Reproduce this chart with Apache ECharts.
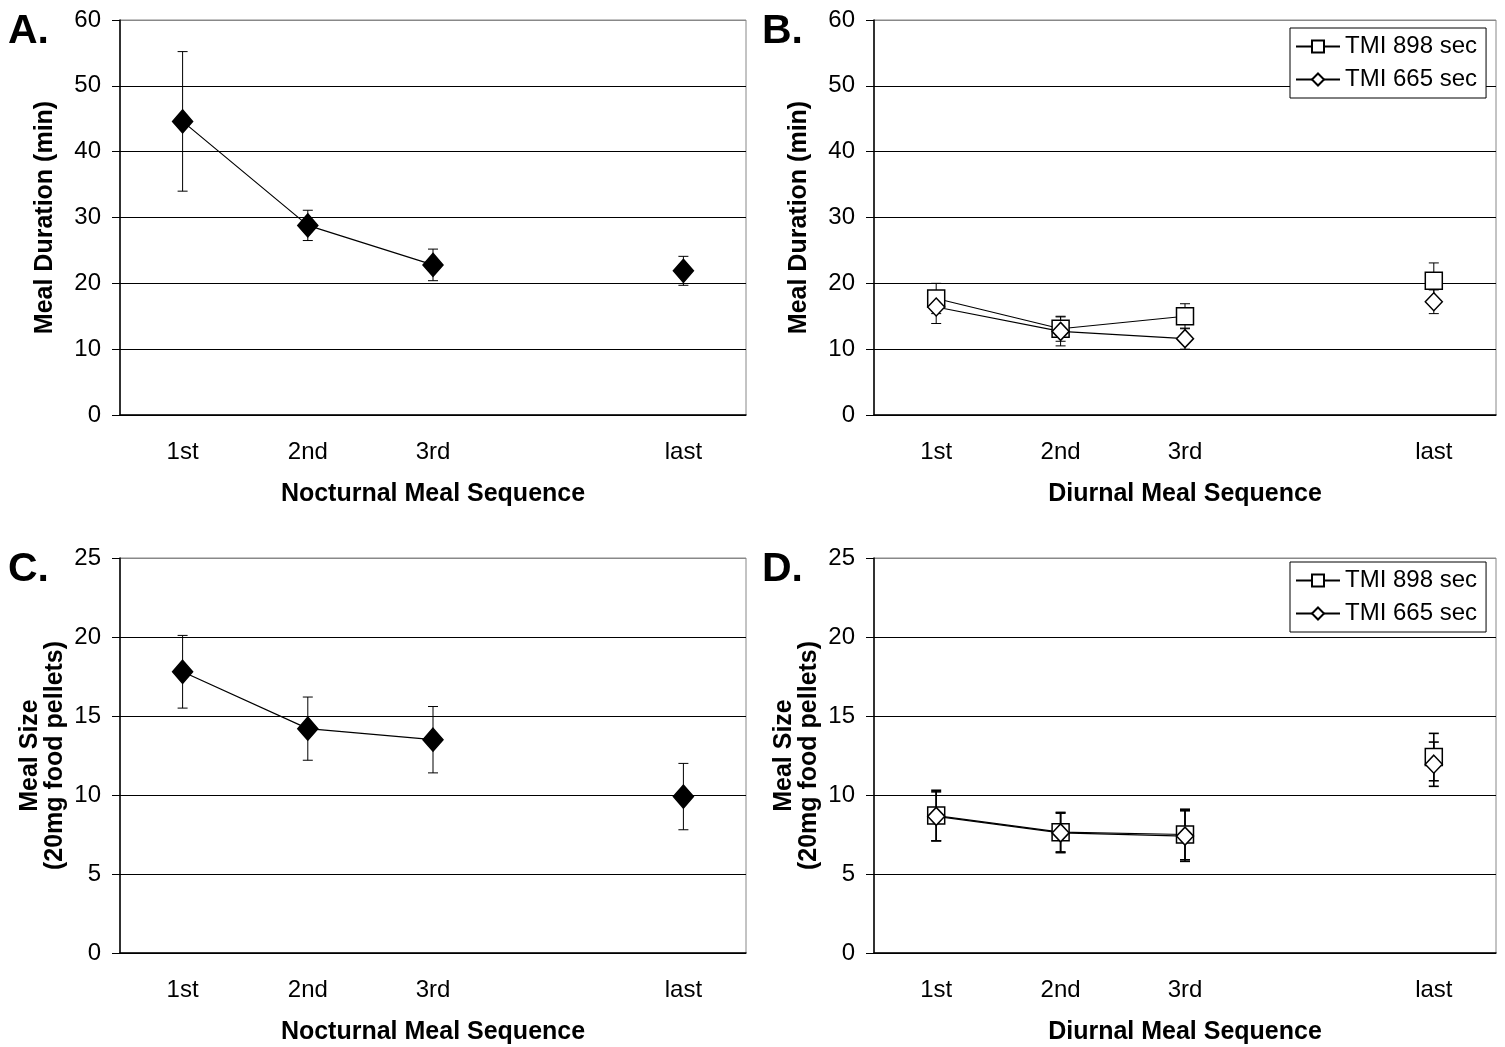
<!DOCTYPE html>
<html>
<head>
<meta charset="utf-8">
<script src="https://cdn.jsdelivr.net/npm/echarts@6/dist/echarts.min.js"></script>
<style>html,body{margin:0;padding:0;background:#fff}#c{width:1505px;height:1047px}</style>
</head>
<body>
<div id="c"></div>
<script>
// ---- data ----
const categories = ['1st', '2nd', '3rd', '', 'last'];
const seriesNames = ['TMI 898 sec', 'TMI 665 sec'];

// A: nocturnal meal duration (min)
const durNoct = [44.6, 28.8, 22.8, null, 21.9];
const durNoctErr = [10.6, 2.3, 2.4, null, 2.2];
// B: diurnal meal duration (min)
const durDiur898 = [17.7, 13.1, 15.0, null, 20.4];
const durDiur898Err = [2.3, 1.9, 1.9, null, 2.7];
const durDiur665 = [16.4, 12.7, 11.6, null, 17.2];
const durDiur665Err = [2.5, 2.2, 1.6, null, 1.8];
// C: nocturnal meal size (pellets)
const sizeNoct = [17.8, 14.2, 13.5, null, 9.9];
const sizeNoctErr = [2.3, 2.0, 2.1, null, 2.1];
// D: diurnal meal size (pellets)
const sizeDiur898 = [8.7, 7.65, 7.5, null, 12.4];
const sizeDiur898Err = [1.6, 1.25, 1.6, null, 1.5];
const sizeDiur665 = [8.65, 7.6, 7.4, null, 11.95];
const sizeDiur665Err = [1.55, 1.25, 1.6, null, 1.4];

const durTicks = {min: 0, max: 60, interval: 10};
const sizeTicks = {min: 0, max: 25, interval: 5};

// ---- helpers ----
const SANS = "'Liberation Sans', Arial, sans-serif";

function errData(vals, errs) {
  const out = [];
  vals.forEach((v, i) => { if (v != null) out.push([i, v, errs[i]]); });
  return out;
}
function errSeries(idx, vals, errs, width) {
  return {
    type: 'custom', xAxisIndex: idx, yAxisIndex: idx, z: 1, silent: true,
    data: errData(vals, errs),
    encode: {x: 0, y: 1},
    renderItem: function (params, api) {
      const i = api.value(0), v = api.value(1), e = api.value(2);
      const top = api.coord([i, v + e]);
      const bot = api.coord([i, v - e]);
      const hw = 5;
      const st = {stroke: '#000', lineWidth: width || 1};
      return {type: 'group', children: [
        {type: 'line', shape: {x1: top[0], y1: top[1], x2: bot[0], y2: bot[1]}, style: st},
        {type: 'line', shape: {x1: top[0] - hw, y1: top[1], x2: top[0] + hw, y2: top[1]}, style: st},
        {type: 'line', shape: {x1: bot[0] - hw, y1: bot[1], x2: bot[0] + hw, y2: bot[1]}, style: st}
      ]};
    }
  };
}
function lineSeries(idx, name, vals, symbol, size, filled) {
  return {
    type: 'line', name: name, xAxisIndex: idx, yAxisIndex: idx, z: 3,
    data: vals, connectNulls: false,
    symbol: symbol, symbolSize: size, showAllSymbol: true,
    lineStyle: {color: '#000', width: 1.2},
    itemStyle: {color: filled ? '#000' : '#fff', borderColor: '#000', borderWidth: 1.5, opacity: 1},
    emphasis: {disabled: true}
  };
}

const grids = [
  {left: 120, top: 20, width: 626, height: 395},
  {left: 874, top: 20, width: 622, height: 395},
  {left: 120, top: 558, width: 626, height: 395},
  {left: 874, top: 558, width: 622, height: 395}
];
const xNames = ['Nocturnal Meal Sequence', 'Diurnal Meal Sequence', 'Nocturnal Meal Sequence', 'Diurnal Meal Sequence'];
const yNames = ['Meal Duration (min)', 'Meal Duration (min)', 'Meal Size\n(20mg food pellets)', 'Meal Size\n(20mg food pellets)'];
const yScales = [durTicks, durTicks, sizeTicks, sizeTicks];
const panelLetters = ['A.', 'B.', 'C.', 'D.'];
const letterPos = [[8, 11], [762, 11], [8, 549], [762, 549]];

const option = {
  animation: false,
  backgroundColor: '#fff',
  grid: grids.map(g => Object.assign({show: true, borderColor: '#888', borderWidth: 1, backgroundColor: 'transparent'}, g)),
  xAxis: grids.map((g, i) => ({
    type: 'category', gridIndex: i, data: categories, boundaryGap: true,
    axisLine: {lineStyle: {color: '#000', width: 1.5}},
    axisTick: {show: false},
    axisLabel: {fontSize: 24, color: '#000', fontFamily: SANS, margin: 25, interval: 0},
    name: xNames[i], nameLocation: 'middle', nameGap: 67,
    nameTextStyle: {fontSize: 25, fontWeight: 'bold', color: '#000', fontFamily: SANS}
  })),
  yAxis: grids.map((g, i) => {
    const s = yScales[i];
    const n = Math.round((s.max - s.min) / s.interval) + 1;
    const cols = [];
    for (let k = 0; k < n; k++) cols.push(k === n - 1 ? '#888' : '#000');
    return {
      type: 'value', gridIndex: i, min: s.min, max: s.max, interval: s.interval,
      axisLine: {show: true, lineStyle: {color: '#000', width: 1.5}},
      axisTick: {show: true, length: 8, lineStyle: {color: '#000'}},
      axisLabel: {fontSize: 24, color: '#000', fontFamily: SANS, margin: 19},
      splitLine: {show: true, lineStyle: {color: cols, width: 1}},
      name: yNames[i], nameLocation: 'middle', nameRotate: 90,
      nameGap: i < 2 ? 62 : 52,
      nameTextStyle: {fontSize: 25, fontWeight: 'bold', color: '#000', fontFamily: SANS, lineHeight: 25}
    };
  }),
  legend: [
    {left: 1290, top: 28},
    {left: 1290, top: 562}
  ].map(p => Object.assign({
    data: seriesNames, orient: 'vertical', backgroundColor: '#fff',
    borderColor: '#000', borderWidth: 1, padding: [5, 9, 5, 5], itemGap: 6,
    itemWidth: 44, itemHeight: 15, selectedMode: false,
    textStyle: {fontSize: 24, color: '#000', fontFamily: SANS, lineHeight: 27}
  }, p)),
  graphic: panelLetters.map((t, i) => ({
    type: 'text', left: letterPos[i][0], top: letterPos[i][1],
    style: {text: t, fontSize: 41, fontWeight: 'bold', fontFamily: SANS, fill: '#000'}
  })),
  series: [
    errSeries(0, durNoct, durNoctErr),
    lineSeries(0, 'Nocturnal duration', durNoct, 'diamond', [20, 23], true),

    errSeries(1, durDiur898, durDiur898Err),
    errSeries(1, durDiur665, durDiur665Err),
    lineSeries(1, seriesNames[0], durDiur898, 'rect', [17, 17], false),
    lineSeries(1, seriesNames[1], durDiur665, 'diamond', [17, 18], false),

    errSeries(2, sizeNoct, sizeNoctErr),
    lineSeries(2, 'Nocturnal size', sizeNoct, 'diamond', [20, 23], true),

    errSeries(3, sizeDiur898, sizeDiur898Err, 1.6),
    errSeries(3, sizeDiur665, sizeDiur665Err, 1.6),
    lineSeries(3, seriesNames[0], sizeDiur898, 'rect', [17, 17], false),
    lineSeries(3, seriesNames[1], sizeDiur665, 'diamond', [17, 18], false)
  ]
};

const chart = echarts.init(document.getElementById('c'), null, {renderer: 'canvas'});
chart.setOption(option);
</script>
</body>
</html>
